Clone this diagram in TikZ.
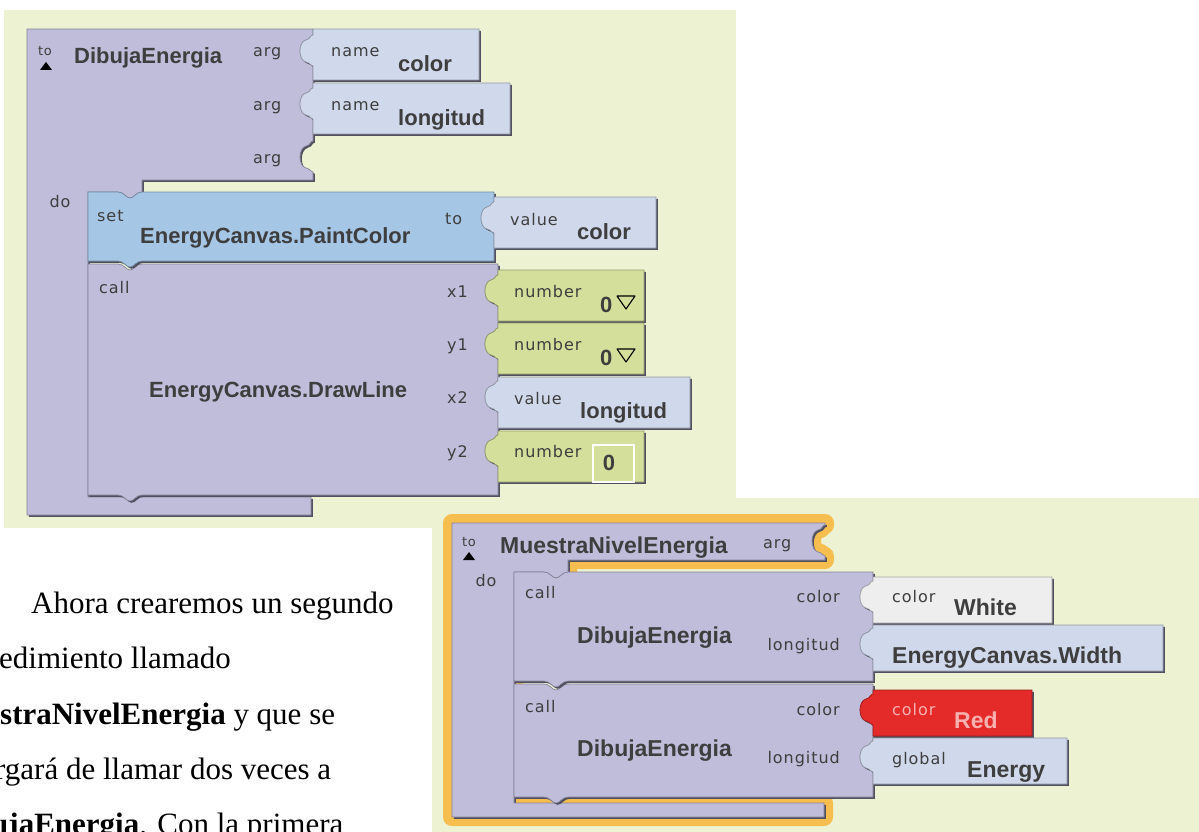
\documentclass[tikz,border=0pt]{standalone}
\usepackage{fontspec}
\setmainfont{Liberation Serif}
\newfontfamily\lblfont[LetterSpace=6]{DejaVu Sans}
\newfontfamily\bfont{Liberation Sans}
\definecolor{bg}{HTML}{EDF3D2}
\definecolor{lav}{HTML}{BFBDDA}
\definecolor{blu}{HTML}{A6C6E6}
\definecolor{val}{HTML}{D0D9EB}
\definecolor{num}{HTML}{D3DF9A}
\definecolor{wht}{HTML}{EEEEEE}
\definecolor{redb}{HTML}{E52A2A}
\definecolor{glow}{HTML}{F6BD4F}
\definecolor{shadowc}{HTML}{505060}
\definecolor{txt}{HTML}{3E3E3E}
\definecolor{pinktxt}{HTML}{F7B0B0}
% socket on a right edge, path going down
\newcommand\sock[2]{-- (#1,#2-17) .. controls (#1-3,#2-17) and (#1-2,#2-13) .. (#1-7,#2-12) .. controls (#1-15,#2-10) and (#1-15,#2+8) .. (#1-7,#2+10) .. controls (#1-2,#2+11) and (#1-3,#2+14) .. (#1,#2+14)}
% plug on a left edge, path going up
\newcommand\plug[2]{-- (#1,#2+14) .. controls (#1-3,#2+14) and (#1-2,#2+11) .. (#1-7,#2+10) .. controls (#1-15,#2+8) and (#1-15,#2-10) .. (#1-7,#2-12) .. controls (#1-2,#2-13) and (#1-3,#2-17) .. (#1,#2-17)}
% notch on a top edge, path going right
\newcommand\notch[2]{-- (#1,#2) .. controls (#1+6,#2) and (#1+8,#2+6) .. (#1+12,#2+6) .. controls (#1+16,#2+6) and (#1+18,#2) .. (#1+24,#2)}
% tab on a bottom edge, path going left
\newcommand\tabb[2]{-- (#1+24,#2) .. controls (#1+18,#2) and (#1+16,#2+6) .. (#1+12,#2+6) .. controls (#1+8,#2+6) and (#1+6,#2) .. (#1,#2)}
\tikzset{
  blk/.style={fill=#1, draw=#1!70!black, line width=0.7,
    preaction={fill=shadowc, transform canvas={shift={(1.8,1.8)}}}},
  lbl/.style={font=\lblfont\fontsize{16}{18}\selectfont, text=txt, inner sep=0pt},
  tolbl/.style={font=\lblfont\fontsize{13}{15}\selectfont, text=txt, inner sep=0pt},
  bold/.style={font=\bfont\bfseries\fontsize{22}{26}\selectfont, text=txt, inner sep=0pt},
  boldl/.style={font=\bfont\bfseries\fontsize{23}{27}\selectfont, text=txt, inner sep=0pt},
  para/.style={font=\fontsize{31}{36}\selectfont, text=black, inner sep=0pt, anchor=base west},
}
\begin{document}
\begin{tikzpicture}[x=1pt,y=-1pt]
\useasboundingbox (0,0) rectangle (1199,832);
\clip (0,0) rectangle (1199,832);
\fill[white] (0,0) rectangle (1199,832);
\fill[bg] (4,10) rectangle (736,528);
\fill[bg] (432,498) rectangle (1199,832);

% ---------- top procedure DibujaEnergia ----------
\path[blk=lav] (27,29) -- (313,29) \sock{313}{52} \sock{313}{105} \sock{313}{158} -- (313,180) -- (142,180) -- (142,192) \tabb{118}{192} -- (88,192) -- (88,497) -- (311,497) -- (311,515) -- (27,515) -- cycle;
\node[tolbl, anchor=base] (to1) at (45,56) {to};
\fill[black] (40,70) -- (46,62) -- (52,70) -- cycle;
\node[bold, anchor=base west] (proc1) at (74,64) {DibujaEnergia};
\node[lbl, anchor=base west] (arg1) at (253,57) {arg};
\node[lbl, anchor=base west] (arg2) at (253,111) {arg};
\node[lbl, anchor=base west] (arg3) at (253,164) {arg};
\node[lbl, anchor=base] (do1) at (60,207) {do};

% call DrawLine
\path[blk=lav] (88,264) \notch{118}{264} -- (498,264) \sock{498}{292} \sock{498}{345} \sock{498}{398} \sock{498}{452} -- (498,495) \tabb{118}{495} -- (88,495) -- cycle;
\node[lbl, anchor=base west] (call1) at (99,293) {call};
\node[bold, anchor=base west] (dl) at (149,397) {EnergyCanvas.DrawLine};
\node[lbl, anchor=base east] (x1) at (468,297) {x1};
\node[lbl, anchor=base east] (y1) at (468,350) {y1};
\node[lbl, anchor=base east] (x2) at (468,403) {x2};
\node[lbl, anchor=base east] (y2) at (468,457) {y2};

% set PaintColor
\path[blk=blu] (88,192) \notch{118}{192} -- (494,192) \sock{494}{219} -- (494,261) \tabb{118}{261} -- (88,261) -- cycle;
\node[lbl, anchor=base west] (set1) at (97,221) {set};
\node[bold, anchor=base west] (pc) at (140,243) {EnergyCanvas.PaintColor};
\node[lbl, anchor=base west] (to2) at (445,224) {to};

% value blocks (top)
\path[blk=val] (313,29) -- (479,29) -- (479,80) -- (313,80) \plug{313}{52} -- cycle;
\node[lbl, anchor=base west] (n1) at (331,57) {name};
\node[bold, anchor=base west] (c1) at (398,72) {color};
\path[blk=val] (313,83) -- (510,83) -- (510,134) -- (313,134) \plug{313}{105} -- cycle;
\node[lbl, anchor=base west] (n2) at (331,111) {name};
\node[bold, anchor=base west] (l1) at (398,125) {longitud};
\path[blk=val] (494,197) -- (656,197) -- (656,248) -- (494,248) \plug{494}{219} -- cycle;
\node[lbl, anchor=base west] (v1) at (510,225) {value};
\node[bold, anchor=base west] (c2) at (577,239) {color};

\path[blk=num] (498,270) -- (644,270) -- (644,321) -- (498,321) \plug{498}{292} -- cycle;
\node[lbl, anchor=base west] (nb1) at (514,297) {number};
\node[bold, anchor=base west] (z1) at (600,312) {0};
\draw[black, line width=1.1, line join=round] (617,296) -- (635,296) -- (626,309) -- cycle;
\path[blk=num] (498,323) -- (644,323) -- (644,374) -- (498,374) \plug{498}{345} -- cycle;
\node[lbl, anchor=base west] (nb2) at (514,350) {number};
\node[bold, anchor=base west] (z2) at (600,365) {0};
\draw[black, line width=1.1, line join=round] (617,349) -- (635,349) -- (626,362) -- cycle;
\path[blk=val] (498,377) -- (690,377) -- (690,428) -- (498,428) \plug{498}{398} -- cycle;
\node[lbl, anchor=base west] (v2) at (514,404) {value};
\node[bold, anchor=base west] (l2) at (580,418) {longitud};
\path[blk=num] (498,431) -- (644,431) -- (644,482) -- (498,482) \plug{498}{452} -- cycle;
\node[lbl, anchor=base west] (nb3) at (514,457) {number};
\draw[white, line width=1.2] (593,445) rectangle (634,482);
\node[bold, anchor=base] (z3) at (609,470) {0};

% ---------- left paragraph ----------
\node[para] (p1) at (31,613) {Ahora crearemos un segundo};
\node[para] (p2) at (-1,668) {edimiento llamado};
\node[para] (p3) at (0,724) {\textbf{straNivelEnergia} y que se};
\node[para] (p4) at (-5,779) {rgará de llamar dos veces a};
\node[para] (p5) at (-9,834) {\textbf{ujaEnergia}. Con la primera};

% ---------- lower procedure MuestraNivelEnergia ----------
\def\ptwo{(452,523) -- (825,523) \sock{825}{542} -- (825,560) -- (568,560) -- (568,572) \tabb{544}{572} -- (514,572) -- (514,803) -- (824,803) -- (824,817) -- (452,817) -- cycle}
\draw[glow, line width=18, line join=round] \ptwo;
\path[blk=lav] \ptwo;
\node[tolbl, anchor=base] (to3) at (469,546) {to};
\fill[black] (463,560) -- (469,552) -- (475,560) -- cycle;
\node[boldl, anchor=base west] (proc2) at (500,553) {MuestraNivelEnergia};
\node[lbl, anchor=base west] (arg4) at (763,548) {arg};
\node[lbl, anchor=base] (do2) at (486,586) {do};

% call block 2 (drawn first)
\path[blk=lav] (514,684) \notch{544}{684} -- (873,684) \sock{873}{711} \sock{873}{758} -- (873,797) \tabb{544}{797} -- (514,797) -- cycle;
\node[lbl, anchor=base west] (call3) at (525,712) {call};
\node[boldl, anchor=base west] (de2) at (577,756) {DibujaEnergia};
\node[lbl, anchor=base east] (col2) at (840,715) {color};
\node[lbl, anchor=base east] (lon2) at (840,763) {longitud};

% call block 1
\path[blk=lav] (514,572) \notch{544}{572} -- (873,572) \sock{873}{598} \sock{873}{645} -- (873,681) \tabb{544}{681} -- (514,681) -- cycle;
\node[lbl, anchor=base west] (call2) at (525,598) {call};
\node[boldl, anchor=base west] (de1) at (577,643) {DibujaEnergia};
\node[lbl, anchor=base east] (col1) at (840,602) {color};
\node[lbl, anchor=base east] (lon1) at (840,650) {longitud};

% value blocks (lower)
\path[blk=wht] (873,577) -- (1052,577) -- (1052,623) -- (873,623) \plug{873}{598} -- cycle;
\node[lbl, anchor=base west] (cw) at (892,602) {color};
\node[boldl, anchor=base west] (white) at (954,615) {White};
\path[blk=val] (873,625) -- (1163,625) -- (1163,671) -- (873,671) \plug{873}{645} -- cycle;
\node[boldl, anchor=base west] (ecw) at (892,663) {EnergyCanvas.Width};
\path[blk=redb] (873,690) -- (1032,690) -- (1032,736) -- (873,736) \plug{873}{711} -- cycle;
\node[lbl, anchor=base west, text=pinktxt] (cr) at (892,715) {color};
\node[boldl, anchor=base west, text=pinktxt] (red) at (954,728) {Red};
\path[blk=val] (873,738) -- (1067,738) -- (1067,784) -- (873,784) \plug{873}{758} -- cycle;
\node[lbl, anchor=base west] (gl) at (892,764) {global};
\node[boldl, anchor=base west] (en) at (967,777) {Energy};
\end{tikzpicture}
\end{document}
